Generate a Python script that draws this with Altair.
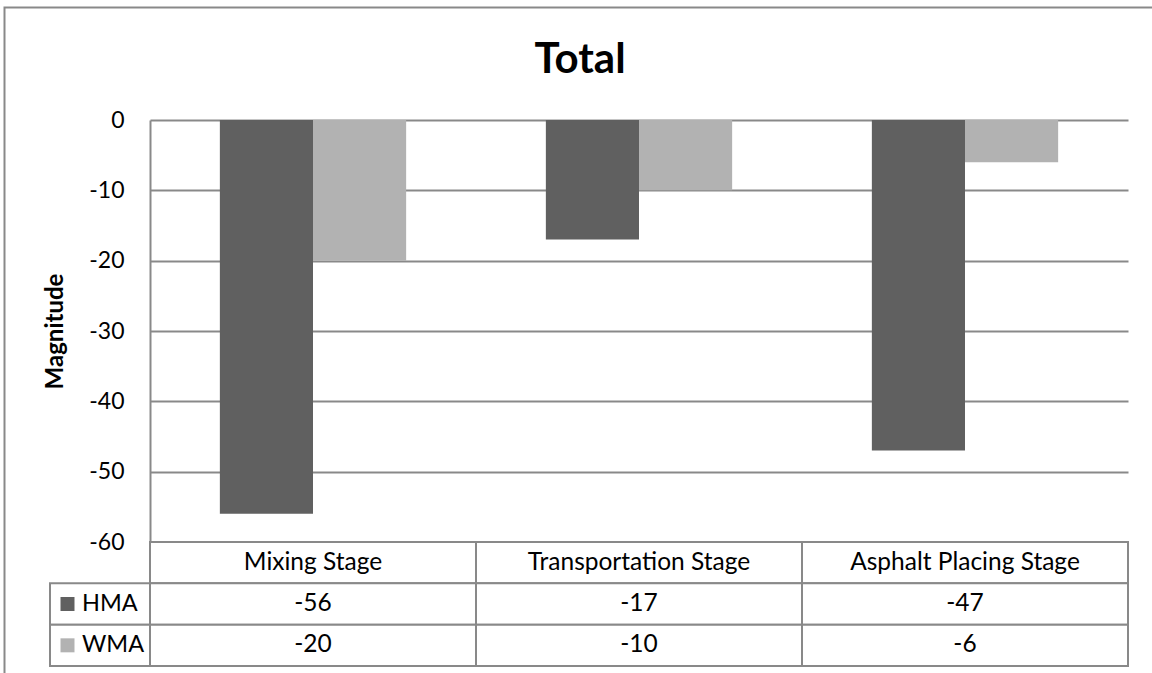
import altair as alt
import pandas as pd

# ---- data ----
categories = ["Mixing Stage", "Transportation Stage", "Asphalt Placing Stage"]
series = ["HMA", "WMA"]
hma_values = [-56, -17, -47]
wma_values = [-20, -10, -6]
y_ticks = [0, -10, -20, -30, -40, -50, -60]
series_colors = ["#606060", "#b2b2b2"]
table_rows = ["header", "HMA", "WMA"]

FONT = "Lato"
LINE = "#898989"
W, H_PLOT, H_TABLE = 978, 422, 124
H = H_PLOT + H_TABLE

bars_df = pd.DataFrame(
    [{"category": c, "series": "HMA", "value": v} for c, v in zip(categories, hma_values)]
    + [{"category": c, "series": "WMA", "value": v} for c, v in zip(categories, wma_values)]
)

table_df = pd.DataFrame(
    [{"row": "header", "category": c, "label": c} for c in categories]
    + [{"row": "HMA", "category": c, "label": str(v)} for c, v in zip(categories, hma_values)]
    + [{"row": "WMA", "category": c, "label": str(v)} for c, v in zip(categories, wma_values)]
)
legend_df = pd.DataFrame({"row": series, "series": series})
one_df = pd.DataFrame({"t": ["Total"]})

x_scale = alt.Scale(domain=categories, paddingInner=0, paddingOuter=0)
color_scale = alt.Scale(domain=series, range=series_colors)
row_scale = alt.Scale(domain=table_rows, range=[H_PLOT, H], paddingInner=0, paddingOuter=0)

x_enc = alt.X("category:N", scale=x_scale, axis=None)
row_enc = alt.Y("row:N", scale=row_scale, axis=None)

frame = alt.Chart(one_df).mark_rect(fillOpacity=0, stroke=LINE, strokeWidth=2).encode(
    x=alt.value(-145.5), x2=alt.value(1100), y=alt.value(-112.5), y2=alt.value(700)
)

title = alt.Chart(one_df).mark_text(
    font=FONT, fontSize=42, fontWeight="bold", color="black",
    align="center", baseline="alphabetic"
).encode(x=alt.value(430), y=alt.value(-47), text="t:N")

bars = alt.Chart(bars_df).mark_bar(strokeWidth=0).encode(
    x=x_enc,
    xOffset=alt.XOffset("series:N", scale=alt.Scale(domain=series, paddingInner=0, paddingOuter=0.75)),
    y=alt.Y(
        "value:Q",
        scale=alt.Scale(domain=[-60, 0], range=[H_PLOT, 0], nice=False),
        axis=alt.Axis(
            values=y_ticks, ticks=False, labelPadding=26,
            labelExpr="'' + datum.value",
            labelFont=FONT, labelFontSize=23, labelColor="black",
            domain=True, domainColor=LINE, domainWidth=2,
            grid=True, gridColor=LINE, gridWidth=2,
            title="Magnitude", titleFont=FONT, titleFontSize=24, titleFontWeight="bold",
            titleColor="black", titleAngle=270, titleX=-88, titleY=211,
            titleAlign="center", titleBaseline="alphabetic",
        ),
    ),
    color=alt.Color("series:N", scale=color_scale, legend=None),
)

table_cells = alt.Chart(table_df).mark_rect(fill="white", stroke=LINE, strokeWidth=2).encode(
    x=x_enc, y=row_enc
)
table_text = alt.Chart(table_df).mark_text(font=FONT, fontSize=24.5, color="black").encode(
    x=x_enc, y=row_enc, text="label:N"
)

legend_cells = alt.Chart(legend_df).mark_rect(fill="white", stroke=LINE, strokeWidth=2).encode(
    x=alt.value(-100), x2=alt.value(0), y=row_enc
)
legend_swatch = alt.Chart(legend_df).mark_square(size=196, opacity=1, filled=True).encode(
    x=alt.value(-82.5), y=row_enc,
    color=alt.Color("series:N", scale=color_scale, legend=None),
)
legend_text = alt.Chart(legend_df).mark_text(
    font=FONT, fontSize=23.5, color="black", align="left"
).encode(x=alt.value(-68), y=row_enc, text="row:N")

chart = (
    alt.layer(frame, bars, table_cells, table_text, legend_cells, legend_swatch, legend_text, title)
    .resolve_scale(y="independent")
    .properties(
        width=W, height=H,
        autosize=alt.AutoSizeParams(type="none"),
        padding={"left": 150, "top": 120, "right": 24, "bottom": 7},
        background="white",
    )
    .configure_view(strokeWidth=0)
)

chart.save("out.html", embed_options={"renderer": "svg", "actions": False})
